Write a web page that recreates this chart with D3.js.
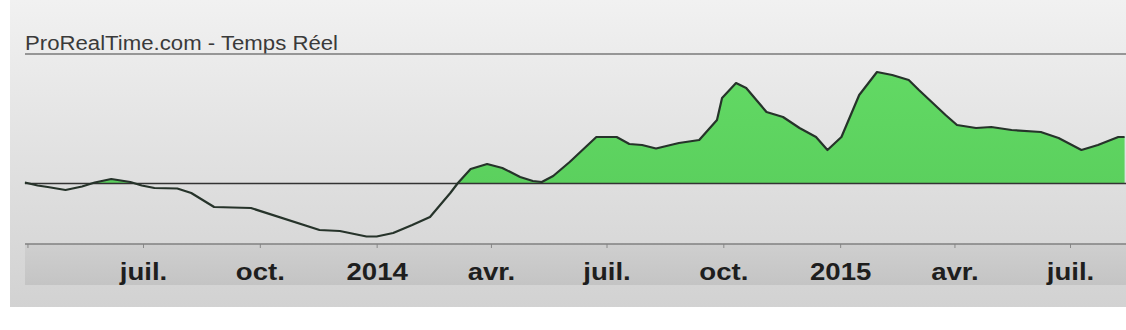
<!DOCTYPE html>
<html>
<head>
<meta charset="utf-8">
<script src="https://cdn.jsdelivr.net/npm/d3@7"></script>
<style>
  body { margin: 0; background: #fff; }
  svg { display: block; font-family: "Liberation Sans", Arial, sans-serif; }
</style>
</head>
<body>
<script>
// values (date, indicator value)
var dates = ["2013-03-30","2013-04-09","2013-04-17","2013-05-01","2013-05-14","2013-05-24","2013-06-06","2013-06-21",
  "2013-06-30","2013-07-10","2013-07-28","2013-08-08","2013-08-26","2013-09-24","2013-11-17","2013-12-03",
  "2013-12-24","2014-01-01","2014-01-14","2014-01-29","2014-02-12","2014-02-20","2014-02-28","2014-03-06",
  "2014-03-16","2014-03-29","2014-04-10","2014-04-24","2014-05-04","2014-05-11","2014-05-20","2014-06-02",
  "2014-06-23","2014-07-09","2014-07-19","2014-07-29","2014-08-09","2014-08-27","2014-09-12","2014-09-26",
  "2014-09-30","2014-10-11","2014-10-19","2014-11-04","2014-11-17","2014-11-30","2014-12-13","2014-12-22",
  "2015-01-02","2015-01-16","2015-01-30","2015-02-11","2015-02-24","2015-03-04","2015-03-25","2015-04-03",
  "2015-04-18","2015-04-30","2015-05-16","2015-06-08","2015-06-22","2015-07-10","2015-07-23","2015-08-08","2015-08-13"];
var values = [0.2,-0.4,-0.7,-1.3,-0.6,0.2,0.9,0.3,
  -0.4,-0.9,-1.0,-1.9,-4.7,-4.9,-9.3,-9.5,
  -10.6,-10.6,-9.9,-8.3,-6.7,-4.3,-1.9,0.1,
  2.9,3.9,3.1,1.3,0.5,0.3,1.5,4.3,
  9.3,9.3,7.9,7.7,7.0,8.1,8.7,12.7,
  17.1,20.1,19.1,14.3,13.3,11.1,9.3,6.7,
  9.3,17.7,22.3,21.7,20.7,18.7,13.7,11.7,
  11.1,11.3,10.7,10.3,9.1,6.7,7.7,9.3,9.3];

var tickDates = ["2013-04-01","2013-07-01","2013-10-01","2014-01-01","2014-04-01","2014-07-01","2014-10-01","2015-01-01","2015-04-01","2015-07-01"];
var tickLabels = ["", "juil.", "oct.", "2014", "avr.", "juil.", "oct.", "2015", "avr.", "juil."];

var title = "ProRealTime.com - Temps Réel";

var w = 1126, h = 330;
var parse = d3.timeParse("%Y-%m-%d");

var data = dates.map(function(d, i) { return { date: parse(d), value: values[i] }; });

var x = d3.scaleTime()
  .domain([parse("2013-07-01"), parse("2015-07-01")])
  .range([143, 1070]);

var y = d3.scaleLinear()
  .domain([0, 20])
  .range([183.5, 83.5]);

var svg = d3.select("body").append("svg").attr("width", w).attr("height", h);
var defs = svg.append("defs");

var bg = defs.append("linearGradient").attr("id", "bg").attr("x1", 0).attr("y1", 0).attr("x2", 0).attr("y2", 1);
bg.append("stop").attr("offset", "0%").attr("stop-color", "#f1f1f1");
bg.append("stop").attr("offset", "100%").attr("stop-color", "#d2d2d2");

var band = defs.append("linearGradient").attr("id", "band").attr("x1", 0).attr("y1", 0).attr("x2", 0).attr("y2", 1);
band.append("stop").attr("offset", "0%").attr("stop-color", "#cfcfcf");
band.append("stop").attr("offset", "100%").attr("stop-color", "#c4c4c4");

var green = defs.append("linearGradient").attr("id", "green").attr("x1", 0).attr("y1", 0).attr("x2", 0).attr("y2", 1);
green.append("stop").attr("offset", "0%").attr("stop-color", "#62d964");
green.append("stop").attr("offset", "100%").attr("stop-color", "#58cc5b");

defs.append("clipPath").attr("id", "above")
  .append("rect").attr("x", 0).attr("y", 0).attr("width", w).attr("height", y(0));

// panel
svg.append("rect").attr("x", 10).attr("y", 0).attr("width", w - 10).attr("height", 307).attr("fill", "url(#bg)");
svg.append("rect").attr("x", 25).attr("y", 244).attr("width", w - 25).attr("height", 41).attr("fill", "url(#band)");

// title
svg.append("text")
  .attr("x", 25).attr("y", 50)
  .attr("font-size", 20)
  .attr("textLength", 313)
  .attr("lengthAdjust", "spacingAndGlyphs")
  .attr("fill", "#3a3a3a")
  .text(title);
svg.append("line").attr("x1", 25).attr("x2", w).attr("y1", 54).attr("y2", 54)
  .attr("stroke", "#7a7a7a").attr("stroke-width", 1.5);

// green area above zero
var area = d3.area()
  .x(function(d) { return x(d.date); })
  .y0(y(0))
  .y1(function(d) { return y(d.value); });

svg.append("path")
  .datum(data)
  .attr("clip-path", "url(#above)")
  .attr("fill", "url(#green)")
  .attr("d", area);

// zero line
svg.append("line")
  .attr("x1", 25).attr("x2", w)
  .attr("y1", y(0)).attr("y2", y(0))
  .attr("stroke", "#333").attr("stroke-width", 1.6);

var line = d3.line()
  .x(function(d) { return x(d.date); })
  .y(function(d) { return y(d.value); });

svg.append("path")
  .datum(data)
  .attr("fill", "none")
  .attr("stroke", "#26332a")
  .attr("stroke-width", 2.2)
  .attr("stroke-linejoin", "round")
  .attr("d", line);

// time axis
var axis = svg.append("g")
  .attr("transform", "translate(0,244)")
  .call(d3.axisBottom(x)
    .tickValues(tickDates.map(parse))
    .tickSize(4)
    .tickPadding(15)
    .tickFormat(function(d, i) { return tickLabels[i]; }));

axis.select(".domain").remove();
axis.selectAll(".tick line").attr("stroke", "#8a8a8a");
axis.selectAll(".tick text")
  .attr("font-family", "'Liberation Sans', Arial, sans-serif")
  .attr("font-size", 24)
  .attr("font-weight", "bold")
  .attr("transform", "scale(1.15,1)")
  .attr("fill", "#1e1e1e");

svg.append("line").attr("x1", 25).attr("x2", w).attr("y1", 244).attr("y2", 244)
  .attr("stroke", "#808080").attr("stroke-width", 1.5);
</script>
</body>
</html>
